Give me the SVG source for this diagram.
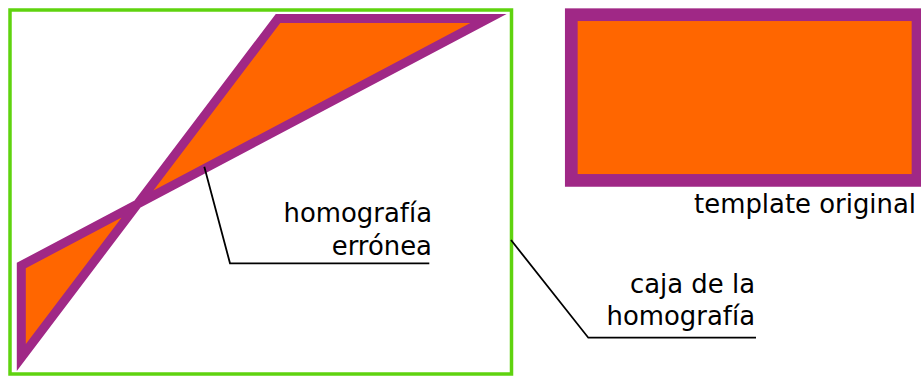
<svg xmlns="http://www.w3.org/2000/svg" width="921" height="376" viewBox="0 0 921 376">
<style>
.shape{fill:#ff6600;stroke:#a02886;stroke-linejoin:miter;stroke-miterlimit:20}
.box{fill:none;stroke:#5fd30f;stroke-width:3.5}
.lbl{font-family:"DejaVu Sans",sans-serif;font-size:25.9px;fill:#000;text-anchor:end}
.lead{fill:none;stroke:#000;stroke-width:1.8}
</style>
<rect width="921" height="376" fill="#fff"/>
<g id="caja">
<rect class="box" x="10" y="10" width="501.5" height="364"/>
</g>
<g id="homografia">
<polygon class="shape" stroke-width="9" points="278,18.5 488.5,18.5 21.3,265.5 21.3,357.5"/>
</g>
<g id="template">
<rect class="shape" stroke-width="12.7" x="571.3" y="14.7" width="346.7" height="165.7"/>
<text class="lbl" x="916" y="213">template original</text>
</g>
<g id="label-erronea">
<text class="lbl" x="432" y="222">homografía</text>
<text class="lbl" x="432" y="255">errónea</text>
</g>
<g id="label-caja">
<text class="lbl" x="755" y="293">caja de la</text>
<text class="lbl" x="755" y="325">homografía</text>
</g>
<g id="connectors">
<polyline class="lead" points="204.3,166.7 230,263.3 429.3,263.3"/>
<polyline class="lead" points="511,240 588.3,337.7 756,337.7"/>
</g>
</svg>
